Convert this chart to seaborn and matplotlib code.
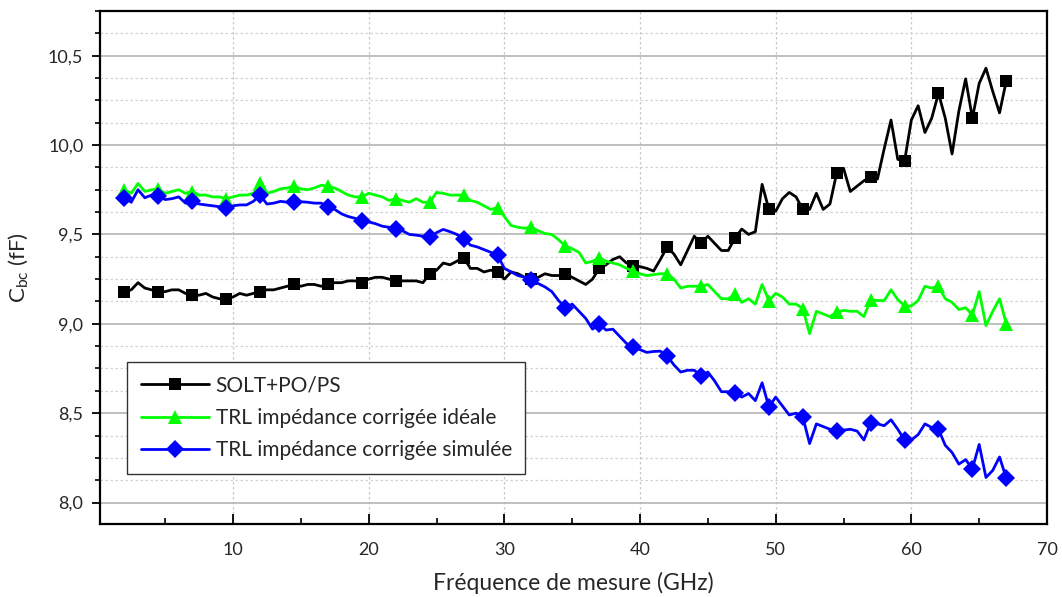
import numpy as np
import pandas as pd
import matplotlib
matplotlib.use("Agg")
import matplotlib.pyplot as plt
from matplotlib.ticker import MultipleLocator, FuncFormatter
import seaborn as sns

# Measurement grid: 2 to 67 GHz, 0.5 GHz step (markers every 2.5 GHz)
freq = np.arange(2.0, 67.5, 0.5)

solt = [
    9.18, 9.19, 9.23, 9.20, 9.19,
    9.18, 9.18, 9.19, 9.19, 9.17,
    9.16, 9.16, 9.17, 9.15, 9.14,
    9.14, 9.15, 9.17, 9.16, 9.17,
    9.18, 9.19, 9.19, 9.20, 9.21,
    9.22, 9.21, 9.22, 9.22, 9.21,
    9.22, 9.23, 9.23, 9.24, 9.24,
    9.23, 9.25, 9.26, 9.26, 9.25,
    9.24, 9.24, 9.24, 9.24, 9.23,
    9.28, 9.30, 9.34, 9.33, 9.35,
    9.37, 9.31, 9.31, 9.29, 9.30,
    9.29, 9.25, 9.29, 9.28, 9.26,
    9.25, 9.26, 9.28, 9.27, 9.27,
    9.28, 9.26, 9.24, 9.22, 9.25,
    9.31, 9.33, 9.36, 9.375, 9.34,
    9.325, 9.32, 9.31, 9.295, 9.36,
    9.43, 9.39, 9.33, 9.41, 9.49,
    9.45, 9.49, 9.45, 9.41, 9.41,
    9.48, 9.53, 9.50, 9.515, 9.78,
    9.64, 9.63, 9.70, 9.735, 9.71,
    9.64, 9.64, 9.73, 9.64, 9.67,
    9.845, 9.87, 9.74, 9.77, 9.80,
    9.82, 9.81, 9.98, 10.14, 9.92,
    9.91, 10.14, 10.22, 10.07, 10.15,
    10.29, 10.15, 9.95, 10.19, 10.37,
    10.15, 10.345, 10.43, 10.30, 10.18,
    10.36,
]

trl_ideale = [
    9.75, 9.73, 9.785, 9.74, 9.75,
    9.755, 9.73, 9.74, 9.75, 9.73,
    9.74, 9.72, 9.72, 9.71, 9.71,
    9.70, 9.71, 9.72, 9.72, 9.73,
    9.785, 9.73, 9.74, 9.755, 9.76,
    9.77, 9.755, 9.75, 9.76, 9.775,
    9.77, 9.76, 9.74, 9.72, 9.71,
    9.71, 9.73, 9.72, 9.71, 9.69,
    9.70, 9.69, 9.68, 9.70, 9.68,
    9.68, 9.735, 9.73, 9.72, 9.72,
    9.72, 9.69, 9.68, 9.66, 9.64,
    9.65, 9.60, 9.55, 9.54, 9.535,
    9.54, 9.52, 9.505, 9.50, 9.47,
    9.435, 9.42, 9.40, 9.34, 9.35,
    9.37, 9.35, 9.34, 9.33, 9.31,
    9.295, 9.28, 9.27, 9.275, 9.28,
    9.28, 9.25, 9.20, 9.21, 9.21,
    9.21, 9.22, 9.18, 9.14, 9.14,
    9.165, 9.12, 9.14, 9.11, 9.22,
    9.13, 9.17, 9.15, 9.11, 9.11,
    9.085, 8.945, 9.07, 9.055, 9.04,
    9.065, 9.075, 9.07, 9.07, 9.04,
    9.135, 9.13, 9.13, 9.19, 9.135,
    9.10, 9.10, 9.13, 9.21, 9.20,
    9.21, 9.14, 9.12, 9.08, 9.09,
    9.05, 9.18, 8.99, 9.07, 9.14,
    9.00,
]

trl_simulee = [
    9.705, 9.68, 9.75, 9.705, 9.72,
    9.715, 9.695, 9.70, 9.71, 9.675,
    9.685, 9.67, 9.665, 9.66, 9.655,
    9.645, 9.66, 9.665, 9.665, 9.685,
    9.72, 9.67, 9.675, 9.685, 9.68,
    9.683, 9.683, 9.68, 9.675, 9.675,
    9.655, 9.64, 9.615, 9.60, 9.59,
    9.575, 9.57, 9.56, 9.546, 9.54,
    9.53, 9.52, 9.50, 9.496, 9.49,
    9.483, 9.51, 9.528, 9.515, 9.50,
    9.477, 9.44, 9.43, 9.415, 9.40,
    9.384, 9.31, 9.29, 9.27, 9.26,
    9.244, 9.225, 9.206, 9.18, 9.13,
    9.09, 9.11, 9.07, 9.03, 8.97,
    8.997, 8.965, 8.97, 8.93, 8.89,
    8.87, 8.855, 8.84, 8.845, 8.847,
    8.82, 8.77, 8.73, 8.74, 8.74,
    8.71, 8.73, 8.68, 8.62, 8.62,
    8.615, 8.59, 8.61, 8.57, 8.67,
    8.534, 8.59, 8.54, 8.49, 8.50,
    8.478, 8.33, 8.44, 8.425, 8.41,
    8.40, 8.405, 8.41, 8.40, 8.35,
    8.445, 8.44, 8.43, 8.463, 8.41,
    8.35, 8.35, 8.38, 8.44, 8.42,
    8.41, 8.32, 8.28, 8.215, 8.24,
    8.19, 8.325, 8.14, 8.18, 8.255,
    8.135,
]

labels = ["SOLT+PO/PS",
          "TRL impédance corrigée idéale",
          "TRL impédance corrigée simulée"]
colors = ["#000000", "#00ff00", "#0000ff"]
markers = ["s", "^", "D"]
msizes = [9, 10.5, 9]

sns.set_theme(style="ticks")
plt.rcParams["font.family"] = ["Lato", "DejaVu Sans"]

fig = plt.figure(figsize=(10.62, 5.97), dpi=100)
ax = fig.add_axes([0.0942, 0.1223, 0.8917, 0.8593])

for vals, lab, col, mk, ms in zip([solt, trl_ideale, trl_simulee], labels, colors, markers, msizes):
    df = pd.DataFrame({"f": freq, "c": vals})
    sns.lineplot(data=df, x="f", y="c", ax=ax, color=col, label=lab,
                 marker=mk, markersize=ms, markevery=5, markeredgewidth=0,
                 linewidth=2, estimator=None, sort=False, zorder=3)

ax.set_xlim(0.2, 70)
ax.set_ylim(7.88, 10.75)

ax.xaxis.set_major_locator(MultipleLocator(10))
ax.xaxis.set_minor_locator(MultipleLocator(5))
ax.yaxis.set_major_locator(MultipleLocator(0.5))
ax.yaxis.set_minor_locator(MultipleLocator(0.125))
ax.yaxis.set_major_formatter(FuncFormatter(lambda v, p: f"{v:.1f}".replace(".", ",")))
ax.xaxis.set_major_formatter(FuncFormatter(lambda v, p: f"{v:.0f}"))

ax.tick_params(axis="x", which="major", direction="in", length=7, width=1.3,
               labelsize=13, pad=13, color="black")
ax.tick_params(axis="x", which="minor", direction="in", length=4, width=1.2, color="black")
ax.tick_params(axis="y", which="major", direction="out", length=6, width=1.3,
               labelsize=13, pad=6, color="black")
ax.tick_params(axis="y", which="minor", direction="out", length=3.5, width=1.2, color="black")

ax.grid(False)
ax.yaxis.grid(True, which="major", color="#b4b4b4", linewidth=1.2, linestyle="-", zorder=0)
ax.yaxis.grid(True, which="minor", color="#d2d2d2", linewidth=0.9, linestyle=(0, (2, 2)), zorder=0)
ax.xaxis.grid(True, which="major", color="#c8c8c8", linewidth=0.9, linestyle=(0, (2, 2)), zorder=0)
ax.set_axisbelow(True)

for s in ax.spines.values():
    s.set_visible(True)
    s.set_color("black")
    s.set_linewidth(1.6)

ax.set_xlabel("Fréquence de mesure (GHz)", fontsize=16.5, labelpad=10)
ax.set_ylabel(r"C$_{\mathregular{bc}}$ (fF)", fontsize=16, labelpad=12)

leg = ax.legend(loc="upper left", bbox_to_anchor=(0.0285, 0.316), fontsize=15,
                frameon=True, fancybox=False, edgecolor="#333333", framealpha=1,
                borderaxespad=0, handlelength=3.3, borderpad=0.65, labelspacing=0.6,
                handletextpad=0.3)
leg.get_frame().set_linewidth(1.0)

fig.savefig("out.png", dpi=100)
